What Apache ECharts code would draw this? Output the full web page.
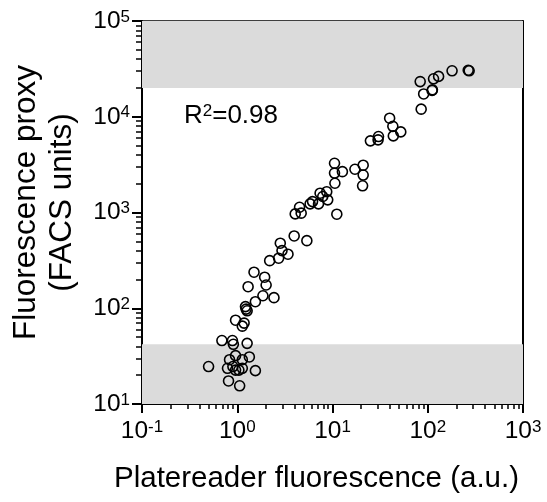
<!DOCTYPE html>
<html>
<head>
<meta charset="utf-8">
<script src="https://cdn.jsdelivr.net/npm/echarts@6/dist/echarts.min.js"></script>
<style>html,body{margin:0;padding:0;background:#fff;}#c{width:547px;height:502px;}</style>
</head>
<body>
<div id="c"></div>
<script>
// Platereader fluorescence (a.u.) — x values
const platereader = [
  0.50, 0.69, 0.89, 0.91, 1.27, 0.83, 0.96, 1.13, 1.34, 0.79,
  0.90, 1.04, 1.13, 0.96, 1.55, 0.81, 1.06, 0.96, 1.18, 1.13,
  1.22, 1.27, 1.24, 1.55, 1.86, 2.43, 1.30, 2.01, 1.94, 1.50,
  2.19, 2.72, 2.95, 2.83, 3.41, 3.96, 5.38, 4.06, 4.69, 4.51,
  5.82, 6.17, 7.13, 7.41, 7.90, 8.70, 8.91, 11.1, 10.6, 10.5,
  10.5, 12.7, 17.2, 21.0, 21.0, 20.7, 25.0, 30.1, 30.4, 39.8,
  43.0, 43.5, 52.1, 85.3, 90.6, 83.3, 112, 111, 115, 130,
  180, 272, 266
];
// Fluorescence proxy (FACS units) — y values
const facs = [
  24.6, 46, 46, 42, 43, 29, 32, 29, 31, 23.6,
  24.6, 22.6, 23.6, 22.6, 22.3, 17.4, 15.5, 75, 70, 65,
  104, 94, 98, 117, 135, 129, 168, 175, 211, 238,
  314, 333, 400, 478, 367, 569, 508, 967, 984, 1135,
  1230, 1300, 1230, 1590, 1470, 1650, 1355, 960, 2020, 2580,
  3270, 2670, 2830, 3120, 2460, 1900, 5600, 5740, 6210, 9660,
  7940, 6310, 6950, 12000, 17300, 23300, 19100, 18800, 24900, 26400,
  30200, 30200, 30600
];
// Gray shaded bands (y ranges)
const upperBand = [20000, 100000];
const lowerBand = [10, 42];
const xRange = [0.1, 1000];
const yRange = [10, 100000];
const xTitle = 'Platereader fluorescence (a.u.)';
const yTitle = 'Fluorescence proxy\n(FACS units)';
const r2Label = 'R{s|2}=0.98';

const FONT = "'Liberation Sans', Arial, sans-serif";
const expFormatter = v => '10{s|' + Math.round(Math.log10(v)) + '}';
const tickLabel = (margin) => ({
  formatter: expFormatter, margin: margin,
  fontFamily: FONT, fontSize: 24.5, color: '#000',
  rich: { s: { fontFamily: FONT, fontSize: 17, color: '#000', verticalAlign: 'top', padding: [0, 0, 8, 0] } }
});

const chart = echarts.init(document.getElementById('c'));
chart.setOption({
  animation: false,
  grid: { left: 140, right: 24, top: 21, bottom: 98 },
  xAxis: [{
    type: 'log', min: xRange[0], max: xRange[1],
    axisLine: { show: true, lineStyle: { color: '#000', width: 2 } },
    axisTick: { show: true, length: 9, lineStyle: { color: '#000', width: 2 } },
    minorTick: { show: true, splitNumber: 9, length: 5, lineStyle: { color: '#000', width: 1.5 } },
    splitLine: { show: false },
    axisLabel: tickLabel(15),
    name: xTitle, nameLocation: 'middle', nameGap: 60,
    nameTextStyle: { fontFamily: FONT, fontSize: 29.5, color: '#000', padding: [0, 32, 0, 0] }
  }, {
    type: 'log', min: xRange[0], max: xRange[1], position: 'top',
    axisLine: { show: true, lineStyle: { color: '#000', width: 1.5 } },
    axisTick: { show: false }, axisLabel: { show: false }, splitLine: { show: false }
  }],
  yAxis: [{
    type: 'log', min: yRange[0], max: yRange[1],
    axisLine: { show: true, lineStyle: { color: '#000', width: 2 } },
    axisTick: { show: true, length: 10, lineStyle: { color: '#000', width: 2 } },
    minorTick: { show: true, splitNumber: 9, length: 6, lineStyle: { color: '#000', width: 1.5 } },
    splitLine: { show: false },
    axisLabel: tickLabel(12),
    name: yTitle, nameLocation: 'middle', nameRotate: 90, nameGap: 62,
    nameTextStyle: { fontFamily: FONT, fontSize: 31.5, color: '#000', lineHeight: 36, padding: [0, 0, 0, 20] }
  }, {
    type: 'log', min: yRange[0], max: yRange[1], position: 'right',
    axisLine: { show: true, lineStyle: { color: '#000', width: 2 } },
    axisTick: { show: false }, axisLabel: { show: false }, splitLine: { show: false }
  }],
  series: [{
    type: 'scatter', z: 1, data: [], silent: true,
    markArea: {
      silent: true,
      itemStyle: { color: '#dbdbdb' },
      data: [
        [{ yAxis: upperBand[0] }, { yAxis: upperBand[1] }],
        [{ yAxis: lowerBand[0] }, { yAxis: lowerBand[1] }]
      ]
    }
  }, {
    type: 'scatter', z: 3,
    symbol: 'circle', symbolSize: 10,
    itemStyle: { color: 'rgba(0,0,0,0)', borderColor: '#000', borderWidth: 1.6, opacity: 1 },
    data: platereader.map((x, i) => [x, facs[i]])
  }],
  graphic: [{
    type: 'text', left: 184, top: 103, z: 10,
    style: {
      text: r2Label, fontFamily: FONT, fontSize: 26, fill: '#000',
      rich: { s: { fontFamily: FONT, fontSize: 17, fill: '#000', verticalAlign: 'top', padding: [0, 0, 8, 0] } }
    }
  }]
});
</script>
</body>
</html>
